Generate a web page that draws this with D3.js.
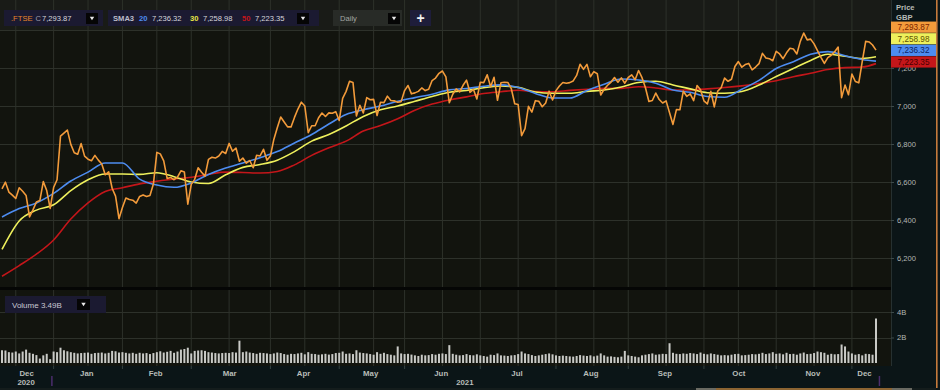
<!DOCTYPE html>
<html>
<head>
<meta charset="utf-8">
<script src="https://cdn.jsdelivr.net/npm/d3@7"></script>
<style>
  html, body { margin: 0; padding: 0; background: #0b1517; }
  svg { display: block; font-family: "Liberation Sans", Arial, sans-serif; }
</style>
</head>
<body>
<svg id="chart" width="940" height="390"></svg>
<script>
// daily closes, .FTSE, 9 Dec 2020 .. 10 Dec 2021 (one per trading day)
const close = [
  6564, 6599, 6547, 6531, 6513, 6570, 6551, 6529, 6416, 6453, 6495, 6502, 6602, 6555, 6461,
  6571, 6612, 6841, 6857, 6873, 6798, 6754, 6746, 6802, 6736, 6720, 6712, 6740, 6715, 6695, 6638, 6654, 6567, 6526, 6407,
  6466, 6516, 6508, 6504, 6489, 6524, 6532, 6524, 6529, 6589, 6756, 6748, 6711, 6618, 6624, 6612, 6626, 6659, 6652, 6483,
  6588, 6614, 6675, 6651, 6631, 6719, 6730, 6726, 6737, 6761, 6750, 6803, 6762, 6779, 6709, 6726, 6699, 6713, 6675, 6741, 6737, 6772, 6714,
  6737, 6824, 6885, 6942, 6916, 6890, 6890, 6940, 6984, 7020, 7000, 6860, 6896, 6896, 6938, 6963, 6945, 6964, 6962, 6970,
  6924, 7040, 7077, 7130, 7124, 6948, 7004, 6963, 7044, 7033, 7035, 6950, 7020, 7018, 7052, 7029, 7027, 7020, 7023,
  7081, 7108, 7064, 7069, 7077, 7095, 7081, 7088, 7134, 7147, 7172, 7184, 7153, 7017, 7062, 7090, 7074, 7109, 7136, 7072, 7088, 7037,
  7125, 7123, 7164, 7101, 7151, 7030, 7122, 7125, 7124, 7092, 7012, 7008, 6844, 6881, 6998, 6968, 7028, 7025, 6996, 7016, 7078, 7032,
  7081, 7105, 7124, 7120, 7123, 7132, 7161, 7220, 7193, 7219, 7154, 7181, 7170, 7058, 7088, 7109, 7126, 7150, 7125, 7148, 7120,
  7150, 7164, 7138, 7187, 7149, 7096, 7024, 7029, 7068, 7034, 7016, 7027, 6964, 6903, 6981, 6980, 7078, 7051, 7064, 7028, 7108, 7086,
  7027, 7011, 7077, 6995, 7078, 7096, 7147, 7130, 7141, 7208, 7234, 7204, 7218, 7224, 7190, 7205, 7223, 7277, 7253, 7249, 7238,
  7288, 7274, 7249, 7280, 7304, 7300, 7274, 7340, 7384, 7348, 7352, 7327, 7292, 7256, 7224, 7255, 7267, 7286, 7310, 7044, 7110, 7059,
  7168, 7129, 7122, 7233, 7340, 7337, 7321, 7294
];

// daily volume, billions
const volume = [
  1.0, 0.98, 0.85, 0.82, 0.9, 0.75, 0.9, 1.05, 0.8, 0.72, 0.62, 0.35, 0.6, 0.72, 0.3,
  0.9, 0.85, 1.2, 1.0, 0.92, 0.85, 0.8, 0.75, 0.78, 0.8, 0.82, 0.72, 0.78, 0.8, 0.82, 0.75, 0.8, 0.95, 0.92, 0.82,
  0.85, 0.8, 0.75, 0.8, 0.72, 0.8, 0.75, 0.78, 0.7, 0.78, 0.85, 0.92, 0.82, 0.88, 0.95, 0.8, 0.9, 1.05, 1.1, 1.2,
  0.75, 0.95, 0.98, 1.0, 0.95, 0.85, 0.82, 0.78, 0.75, 0.78, 0.8, 0.78, 0.85, 0.82, 1.75, 0.85, 0.9, 0.82, 0.78, 0.72, 0.8, 0.78, 0.75,
  0.7, 0.75, 0.82, 0.78, 0.7, 0.65, 0.72, 0.7, 0.75, 0.8, 0.68, 0.85, 0.72, 0.7, 0.65, 0.68, 0.72, 0.66, 0.7, 0.78,
  0.8, 0.9, 0.72, 0.75, 0.7, 1.0, 0.82, 0.78, 0.75, 0.7, 0.65, 0.85, 0.72, 0.8, 0.7, 0.65, 0.6, 1.3, 0.75,
  0.7, 0.72, 0.66, 0.6, 0.55, 0.65, 0.6, 0.62, 0.7, 0.65, 0.72, 0.75, 0.7, 1.4, 0.72, 0.65, 0.6, 0.62, 0.7, 0.62, 0.6, 0.68,
  0.6, 0.55, 0.5, 0.65, 0.62, 0.75, 0.6, 0.58, 0.55, 0.6, 0.62, 0.7, 0.9, 0.75, 0.7, 0.62, 0.55, 0.6, 0.65, 0.7, 0.75, 0.68,
  0.6, 0.55, 0.58, 0.55, 0.52, 0.5, 0.55, 0.62, 0.58, 0.55, 0.6, 0.52, 0.58, 0.75, 0.6, 0.5, 0.52, 0.48, 0.45, 0.5, 0.95,
  0.6, 0.55, 0.5, 0.45, 0.6, 0.65, 0.7, 0.75, 0.65, 0.68, 0.72, 0.7, 1.55, 0.8, 0.72, 0.7, 0.75, 0.72, 0.78, 0.75, 0.7, 0.82,
  0.72, 0.68, 0.75, 0.7, 0.65, 0.6, 0.62, 0.6, 0.65, 0.7, 0.72, 0.6, 0.62, 0.65, 0.7, 0.68, 0.72, 0.8, 0.7, 0.75, 0.85,
  0.72, 0.75, 0.68, 0.8, 0.7, 0.72, 0.65, 0.75, 0.82, 0.7, 0.72, 0.78, 0.9, 0.85, 0.8, 0.65, 0.72, 0.68, 0.7, 1.45, 1.3, 0.9,
  0.75, 0.65, 0.7, 0.6, 0.72, 0.7, 0.65, 3.49
];

// moving averages every 5 trading days
const smaIdx = [0,5,10,15,20,25,30,35,40,45,50,55,60,65,70,75,80,85,90,95,100,105,110,115,120,125,
  130,135,140,145,150,155,160,165,170,175,180,185,190,195,200,205,210,215,220,225,230,235,240,245,250,254];
const sma20 = [6416, 6460, 6490, 6540, 6605, 6652, 6700, 6700, 6615, 6584, 6572, 6595, 6640, 6674, 6700, 6728,
  6760, 6805, 6850, 6905, 6955, 6980, 7000, 7025, 7044, 7062, 7085, 7092, 7104, 7111, 7097, 7066, 7042, 7042,
  7082, 7115, 7142, 7137, 7120, 7084, 7072, 7050, 7046, 7088, 7135, 7197, 7233, 7272, 7286, 7264, 7245, 7236];
const sma30 = [6245, 6395, 6452, 6480, 6555, 6612, 6642, 6642, 6640, 6649, 6628, 6600, 6592, 6638, 6677, 6692,
  6715, 6760, 6815, 6850, 6895, 6945, 6980, 7000, 7025, 7050, 7072, 7082, 7096, 7105, 7098, 7074, 7067, 7067,
  7077, 7084, 7100, 7124, 7130, 7111, 7090, 7070, 7067, 7076, 7110, 7155, 7198, 7240, 7272, 7262, 7250, 7259];
const sma50 = [6104, 6160, 6220, 6295, 6405, 6490, 6550, 6570, 6590, 6604, 6616, 6625, 6640, 6652, 6650, 6647,
  6655, 6690, 6740, 6780, 6815, 6868, 6897, 6933, 6978, 7010, 7032, 7048, 7066, 7075, 7083, 7076, 7075, 7082,
  7088, 7093, 7093, 7101, 7095, 7084, 7085, 7090, 7097, 7106, 7118, 7133, 7154, 7172, 7192, 7202, 7205, 7223];

const monthNames = ["Dec","Jan","Feb","Mar","Apr","May","Jun","Jul","Aug","Sep","Oct","Nov","Dec"];
const monthStart = [0, 15, 35, 55, 78, 98, 117, 139, 161, 182, 204, 225, 247];
const midGrid = [4, 25, 45, 66, 88, 108, 128, 150, 172, 193, 214, 236];
const priceTicks = [6200, 6400, 6600, 6800, 7000, 7200];
const priceGrid = [6200, 6400, 6600, 6800, 7000, 7200, 7400];
const volTicks = [2, 4];

const lastClose = 7293.87;
const smaPeriods = [20, 30, 50];
const smaLast = [7236.32, 7258.98, 7223.35];
const volumeLast = "3.49B";

const colors = { close: "#f39b3b", s20: "#4d8cf0", s30: "#eef05c", s50: "#c4161a" };

const svg = d3.select("#chart");
const plotR = 891;
const fmt = d3.format(",.2f");

const x = d3.scaleLinear().domain([0, close.length - 1]).range([2, 876]);
const yP = d3.scaleLinear().domain([6200, 7400]).range([258, 30]);
const yV = d3.scaleLinear().domain([0, 4]).range([363, 312]);

// backgrounds
svg.append("rect").attr("width", 940).attr("height", 390).attr("fill", "#0b1517");
svg.append("rect").attr("x", 0).attr("y", 0).attr("width", plotR).attr("height", 287).attr("fill", "#12140e");
svg.append("rect").attr("x", 0).attr("y", 0).attr("width", plotR).attr("height", 30).attr("fill", "#191b17");
svg.append("rect").attr("x", 0).attr("y", 287).attr("width", plotR).attr("height", 3).attr("fill", "#050605");
svg.append("rect").attr("x", 0).attr("y", 290).attr("width", plotR).attr("height", 76).attr("fill", "#12140e");

// grid
const gridColor = "#2d312a";
const vGrid = monthStart.slice(1).concat(midGrid);
[[0, 287], [290, 366]].forEach(([y0, y1]) => {
  svg.append("g").selectAll("line").data(vGrid).join("line")
    .attr("x1", d => x(d)).attr("x2", d => x(d))
    .attr("y1", y0).attr("y2", y1)
    .attr("stroke", gridColor).attr("stroke-width", 1);
});
svg.append("g").selectAll("line").data(priceGrid).join("line")
  .attr("x1", 0).attr("x2", plotR)
  .attr("y1", d => Math.round(yP(d)) + 0.5).attr("y2", d => Math.round(yP(d)) + 0.5)
  .attr("stroke", gridColor);
svg.append("g").selectAll("line").data(volTicks).join("line")
  .attr("x1", 0).attr("x2", plotR)
  .attr("y1", d => Math.round(yV(d)) + 0.5).attr("y2", d => Math.round(yV(d)) + 0.5)
  .attr("stroke", gridColor);
svg.append("line").attr("x1", plotR + 0.5).attr("x2", plotR + 0.5).attr("y1", 0).attr("y2", 366)
  .attr("stroke", "#263030");

// price lines
svg.append("clipPath").attr("id", "clipP").append("rect")
  .attr("x", 0).attr("y", 0).attr("width", plotR).attr("height", 287);
const lines = svg.append("g").attr("clip-path", "url(#clipP)");
const smaLine = d3.line().x(d => x(d[0])).y(d => yP(d[1])).curve(d3.curveMonotoneX);
[[sma50, colors.s50], [sma30, colors.s30], [sma20, colors.s20]].forEach(([s, c]) => {
  lines.append("path").datum(smaIdx.map((d, i) => [d, s[i]]))
    .attr("d", smaLine).attr("fill", "none").attr("stroke", c).attr("stroke-width", 1.6);
});
lines.append("path").datum(close)
  .attr("d", d3.line().x((d, i) => x(i)).y(d => yP(d)))
  .attr("fill", "none").attr("stroke", colors.close).attr("stroke-width", 1.6)
  .attr("stroke-linejoin", "round");

// volume bars
svg.append("g").selectAll("rect").data(volume).join("rect")
  .attr("x", (d, i) => x(i) - 1)
  .attr("y", d => yV(d))
  .attr("width", 2)
  .attr("height", d => yV(0) - yV(d))
  .attr("fill", "#c9cac6");

// right price axis
const axP = svg.append("g").attr("transform", `translate(${plotR},0)`)
  .call(d3.axisRight(yP).tickValues(priceTicks).tickSize(3).tickPadding(3).tickFormat(d3.format(",")));
axP.select(".domain").remove();
axP.selectAll("line").attr("stroke", "#3d4a4a");
axP.selectAll("text").attr("fill", "#b3b8b4").attr("font-size", 7.6);

const axV = svg.append("g").attr("transform", `translate(${plotR},0)`)
  .call(d3.axisRight(yV).tickValues(volTicks).tickSize(3).tickPadding(3).tickFormat(d => d + "B"));
axV.select(".domain").remove();
axV.selectAll("line").attr("stroke", "#3d4a4a");
axV.selectAll("text").attr("fill", "#b3b8b4").attr("font-size", 7.6);

svg.append("text").attr("x", 896).attr("y", 10).text("Price")
  .attr("fill", "#b8bcb8").attr("font-size", 7.6).attr("font-weight", "bold");
svg.append("text").attr("x", 896).attr("y", 19.5).text("GBP")
  .attr("fill", "#b8bcb8").attr("font-size", 7.6).attr("font-weight", "bold");

// last value tags stacked up from the lowest
const tags = [
  { v: lastClose, fill: colors.close, text: "#7a2400" },
  { v: smaLast[1], fill: colors.s30, text: "#5e5200" },
  { v: smaLast[0], fill: colors.s20, text: "#0c2466" },
  { v: smaLast[2], fill: colors.s50, text: "#4a0000" }
];
const tagBottom = yP(d3.min(tags, d => d.v)) + 4;
tags.forEach((t, k) => {
  const cy = tagBottom - (tags.length - 1 - k) * 11.6 - 5.6;
  svg.append("rect").attr("x", 891).attr("y", cy - 5.6).attr("width", 45).attr("height", 11.2).attr("fill", t.fill);
  svg.append("text").attr("x", 913.5).attr("y", cy + 3).attr("text-anchor", "middle")
    .attr("font-size", 8.2).attr("fill", t.text).text(fmt(t.v));
});

// x axis band
svg.append("rect").attr("x", 0).attr("y", 366).attr("width", 940).attr("height", 22).attr("fill", "#0b1517");
svg.append("g").selectAll("line").data(monthStart.slice(1)).join("line")
  .attr("x1", d => x(d)).attr("x2", d => x(d)).attr("y1", 366).attr("y2", 369)
  .attr("stroke", "#34403f");
const monthMid = monthStart.map((s, i) => ((i + 1 < monthStart.length ? monthStart[i + 1] : close.length) + s - 1) / 2);
const axX = svg.append("g").attr("transform", "translate(0,366)")
  .call(d3.axisBottom(x).tickValues(monthMid).tickSize(0).tickPadding(4).tickFormat((d, i) => monthNames[i]));
axX.select(".domain").remove();
axX.selectAll("text").attr("fill", "#b9bdb9").attr("font-size", 7.8).attr("font-weight", "bold");
const yearLabels = [["2020", monthMid[0]], ["2021", (monthStart[1] + close.length - 1) / 2]];
svg.append("g").selectAll("text").data(yearLabels).join("text")
  .attr("x", d => x(d[1])).attr("y", 385).attr("text-anchor", "middle")
  .attr("fill", "#b9bdb9").attr("font-size", 7.8).attr("font-weight", "bold").text(d => d[0]);
svg.append("g").selectAll("line").data([monthStart[1] - 0.5, close.length]).join("line")
  .attr("x1", d => x(d)).attr("x2", d => x(d)).attr("y1", 376).attr("y2", 386)
  .attr("stroke", "#4b2d6d").attr("stroke-width", 1.5);

// navigator strip
svg.append("rect").attr("x", 0).attr("y", 388).attr("width", 936).attr("height", 2).attr("fill", "#141c1c");
svg.append("rect").attr("x", 696).attr("y", 388).attr("width", 216).attr("height", 2).attr("fill", "#6a6a62");
svg.append("rect").attr("x", 716).attr("y", 388).attr("width", 176).attr("height", 2).attr("fill", "#8c6432");

// right edge
svg.append("rect").attr("x", 936).attr("y", 0).attr("width", 1.6).attr("height", 388).attr("fill", "#c57a3c");

// header widgets
const head = svg.append("g").attr("font-size", 7.6);
function dropdown(x0) {
  head.append("rect").attr("x", x0).attr("y", 13).attr("width", 12).attr("height", 11).attr("fill", "#050505");
  head.append("path").attr("d", `M${x0 + 3.8},${16.8}L${x0 + 8.2},${16.8}L${x0 + 6},${20.2}Z`).attr("fill", "#e8e8e8");
}
head.append("rect").attr("x", 4).attr("y", 10).attr("width", 99).attr("height", 16).attr("fill", "#1b1a31");
head.append("text").attr("x", 11).attr("y", 21).attr("fill", "#e8852a").text(".FTSE");
head.append("text").attr("x", 35.5).attr("y", 21).attr("fill", "#9b9bab").text("C");
head.append("text").attr("x", 42).attr("y", 21).attr("fill", "#d6d6dc").text(fmt(lastClose));
dropdown(86);

head.append("rect").attr("x", 108).attr("y", 10).attr("width", 211).attr("height", 16).attr("fill", "#1b1a31");
head.append("text").attr("x", 113).attr("y", 21).attr("fill", "#bdbdca").attr("font-weight", "bold").text("SMA3");
const smaX = [139, 190, 242];
const smaCol = [colors.s20, "#e6e445", colors.s50];
smaPeriods.forEach((p, i) => {
  head.append("text").attr("x", smaX[i]).attr("y", 21).attr("fill", smaCol[i]).attr("font-weight", "bold").text(p);
  head.append("text").attr("x", smaX[i] + 13).attr("y", 21).attr("fill", "#d6d6dc").text(fmt(smaLast[i]));
});
dropdown(297);

head.append("rect").attr("x", 333).attr("y", 10).attr("width", 69).attr("height", 16).attr("fill", "#282b27");
head.append("text").attr("x", 340).attr("y", 21).attr("fill", "#a3a7a3").text("Daily");
dropdown(388);

head.append("rect").attr("x", 410).attr("y", 10).attr("width", 21).attr("height", 16).attr("fill", "#1e1d3a");
head.append("text").attr("x", 420.5).attr("y", 22.5).attr("text-anchor", "middle")
  .attr("fill", "#f0f0f0").attr("font-size", 14).attr("font-weight", "bold").text("+");

// volume tag
svg.append("rect").attr("x", 5).attr("y", 296).attr("width", 101).attr("height", 17).attr("fill", "#1b1a31");
svg.append("text").attr("x", 12).attr("y", 307.5).attr("font-size", 8).attr("fill", "#c8c8d2").text("Volume " + volumeLast);
svg.append("rect").attr("x", 77).attr("y", 299).attr("width", 13).attr("height", 11).attr("fill", "#050505");
svg.append("path").attr("d", "M81.3,302.8L85.7,302.8L83.5,306.2Z").attr("fill", "#e8e8e8");
</script>
</body>
</html>
